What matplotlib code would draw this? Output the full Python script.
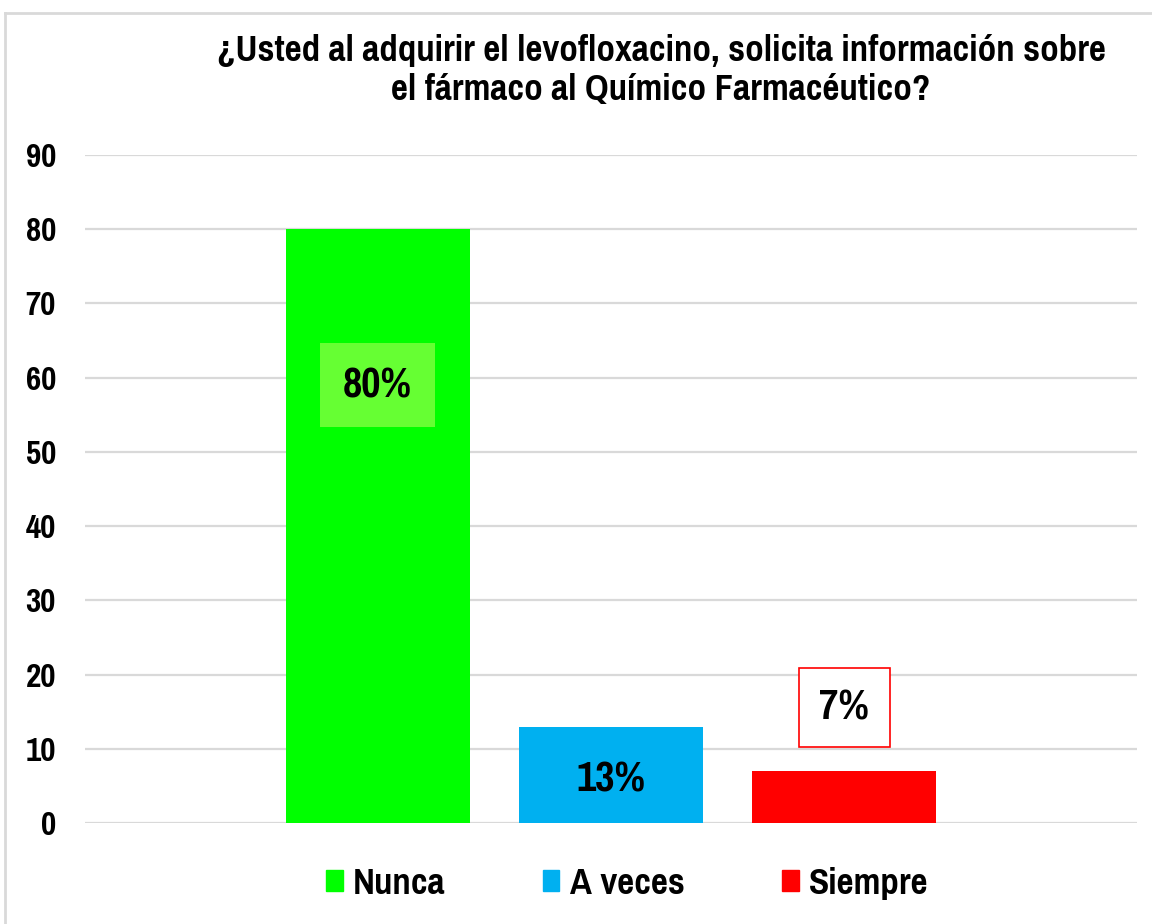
import matplotlib.pyplot as plt
from matplotlib.lines import Line2D
from matplotlib.patches import Patch

# data
categories = ['Nunca', 'A veces', 'Siempre']
values = [80, 13, 7]
labels = ['80%', '13%', '7%']
label_y = [59, 5.8, 15.6]
bar_colors = ['#00ff00', '#00b0f0', '#ff0000']
yticks = [0, 10, 20, 30, 40, 50, 60, 70, 80, 90]
title = u'¿Usted al adquirir el levofloxacino, solicita información sobre\nel fármaco al Químico Farmacéutico?'

plt.rcParams['font.family'] = ['Pragati Narrow', 'Archivo Narrow', 'DejaVu Sans']
plt.rcParams['font.weight'] = 'bold'

fig = plt.figure(figsize=(11.52, 9.24), dpi=100)
ax = fig.add_axes([85 / 1152, 101 / 924, 1052 / 1152, 668 / 924])

x = list(range(len(categories)))
ax.bar(x, values, width=0.788, color=bar_colors, zorder=2)
ax.set_xlim(-1.255, 3.255)
ax.set_ylim(0, 90)
ax.set_yticks(yticks)
ax.set_xticks([])
ax.grid(axis='y', color='#d9d9d9', linewidth=1.6, zorder=0)
ax.set_axisbelow(True)
for s in ax.spines.values():
    s.set_visible(False)
ax.tick_params(axis='y', length=0, labelsize=26, pad=21)
for t in ax.get_yticklabels():
    t.set_fontweight('bold')

# data labels, each with its own box style
boxes = [dict(boxstyle='square,pad=0.5', fc='#66ff33', ec='none'),
         None,
         dict(boxstyle='square,pad=0.45', fc='white', ec='#ff0000', lw=1.2)]
for xi, yi, lab, bx in zip(x, label_y, labels, boxes):
    ax.text(xi, yi, lab, ha='center', va='center', fontsize=33,
            fontweight='bold', bbox=bx, zorder=3)

fig.text(661 / 1152, 1 - 70 / 924, title, ha='center', va='center',
         fontsize=29, fontweight='bold', linespacing=1.2)

handles = [Patch(color=c) for c in bar_colors]
fig.legend(handles, categories, loc='center', bbox_to_anchor=(627 / 1152, 1 - 884 / 924),
           ncol=3, frameon=False, handlelength=0.42, handleheight=0.42,
           handletextpad=0.25, columnspacing=2.42,
           prop={'weight': 'bold', 'size': 29})

# outer chart frame (left and top edges visible)
fig.add_artist(Line2D([5 / 1152, 5 / 1152], [0, 1 - 13 / 924], transform=fig.transFigure,
                      color='#d9d9d9', lw=2))
fig.add_artist(Line2D([5 / 1152, 1], [1 - 13 / 924, 1 - 13 / 924], transform=fig.transFigure,
                      color='#d9d9d9', lw=2))

fig.savefig('out.png', dpi=100)
